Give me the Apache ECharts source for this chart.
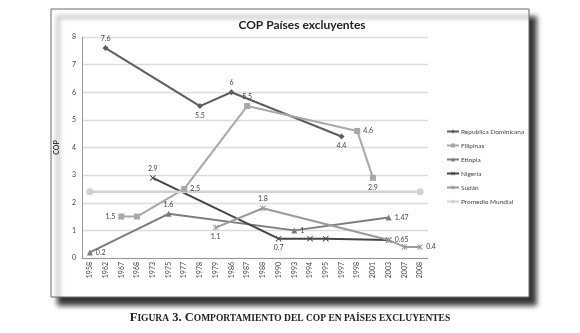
<!DOCTYPE html>
<html>
<head>
<meta charset="utf-8">
<script src="https://cdn.jsdelivr.net/npm/echarts@6/dist/echarts.min.js"></script>
<style>
  html, body { margin: 0; padding: 0; background: #fff; }
  #chart { width: 580px; height: 333px; }
</style>
</head>
<body>
<div id="chart"></div>
<script>
// categorías (años) del eje x
const years = ['1958', '1962', '1967', '1968', '1973', '1975', '1977', '1978', '1979', '1986', '1987',
  '1988', '1990', '1993', '1994', '1995', '1997', '1998', '2001', '2003', '2007', '2008'];

// valores COP por país (null = sin dato)
const repDominicana = [null, 7.6, null, null, null, null, null, 5.5, null, 6, null, null, null, null, null, null, 4.4, null, null, null, null, null];
const filipinas = [null, null, 1.5, 1.5, null, null, 2.5, null, null, null, 5.5, null, null, null, null, null, null, 4.6, 2.9, null, null, null];
const etiopia = [0.2, null, null, null, null, 1.6, null, null, null, null, null, null, null, 1, null, null, null, null, null, 1.47, null, null];
const nigeria = [null, null, null, null, 2.9, null, null, null, null, null, null, null, 0.7, null, 0.7, 0.7, null, null, null, 0.65, null, null];
const sudan = [null, null, null, null, null, null, null, null, 1.1, null, null, 1.8, null, null, null, null, null, null, null, 0.65, 0.4, 0.4];
const promedioMundial = [2.4, null, null, null, null, null, null, null, null, null, null, null, null, null, null, null, null, null, null, null, null, 2.4];

const yTicks = [0, 1, 2, 3, 4, 5, 6, 7, 8];

// posición de las etiquetas de datos (índice de año -> posición)
const labelPos = {
  rd: { 1: 'top', 7: 'bottom', 9: 'top', 16: 'bottom' },
  fil: { 2: 'left', 6: 'right', 10: 'top', 17: 'right', 18: 'bottom' },
  eti: { 0: 'right', 5: 'top', 13: 'right', 19: 'right' },
  nig: { 4: 'top', 12: 'bottom', 19: 'right' },
  sud: { 8: 'bottom', 11: 'top', 21: 'right' },
  pm: {}
};

const FONT = 'Lato, "Open Sans", sans-serif';
const SERIF = '"Liberation Serif", serif';

const xMark = 'path://M0,1 L1,0 L5,4 L9,0 L10,1 L6,5 L10,9 L9,10 L5,6 L1,10 L0,9 L4,5 Z';
const starMark = 'path://M0,1 L1,0 L4.4,3.4 L4.4,0 L5.6,0 L5.6,3.4 L9,0 L10,1 L6.6,4.4 L6.6,5.6 L10,9 L9,10 L5.6,6.6 L5.6,10 L4.4,10 L4.4,6.6 L1,10 L0,9 L3.4,5.6 L3.4,4.4 Z';

function buildData(values, pos) {
  return values.map((v, i) => {
    if (v === null) return null;
    const p = pos[i];
    return {
      value: v,
      label: p ? { show: true, position: p, distance: 3 } : { show: false }
    };
  });
}

function makeSeries(name, values, pos, color, symbol, size, width) {
  return {
    name: name,
    type: 'line',
    data: buildData(values, pos),
    connectNulls: true,
    symbol: symbol,
    symbolSize: size,
    showAllSymbol: true,
    lineStyle: { color: color, width: width || 2 },
    itemStyle: { color: color },
    label: { fontSize: 7, color: '#444', fontFamily: FONT },
    emphasis: { disabled: true },
    animation: false
  };
}

const chart = echarts.init(document.getElementById('chart'));

chart.setOption({
  backgroundColor: '#fff',
  animation: false,
  title: {
    text: 'COP Países excluyentes',
    left: 297,
    textAlign: 'center',
    top: 14,
    textStyle: { fontSize: 12, fontWeight: 'bold', color: '#222', fontFamily: FONT }
  },
  graphic: [
    {
      type: 'rect',
      z: -10,
      shape: { x: 51, y: 9, width: 478, height: 288 },
      style: {
        fill: '#fff',
        stroke: '#6a6a6a',
        lineWidth: 1,
        shadowBlur: 5,
        shadowOffsetX: 7,
        shadowOffsetY: 8,
        shadowColor: 'rgba(30,30,30,0.9)'
      }
    },
    {
      type: 'text',
      left: 'center',
      top: 311,
      style: {
        text: '{b|F}{s|IGURA}{b| 3. C}{s|OMPORTAMIENTO DEL COP EN PAÍSES EXCLUYENTES}',
        rich: {
          b: { fontSize: 12.5, fontWeight: 'bold', fontFamily: SERIF, fill: '#222', verticalAlign: 'bottom' },
          s: { fontSize: 9.5, fontWeight: 'bold', fontFamily: SERIF, fill: '#222', verticalAlign: 'bottom' }
        }
      }
    }
  ],
  legend: {
    orient: 'vertical',
    left: 441,
    top: 123,
    itemGap: 7,
    itemWidth: 12,
    itemHeight: 5,
    textStyle: { fontSize: 6.5, color: '#444', fontFamily: FONT, padding: [0, 0, 0, -3] },
    data: ['Republica Dominicana', 'Filipinas', 'Etiopia', 'Nigeria', 'Sudán', 'Promedio Mundial']
  },
  grid: { left: 82, right: 152, top: 37, bottom: 75, containLabel: false },
  xAxis: {
    type: 'category',
    data: years,
    boundaryGap: true,
    axisLine: { lineStyle: { color: '#999', width: 1 } },
    axisTick: { show: false },
    axisLabel: { rotate: 90, fontSize: 7, color: '#444', margin: 4, interval: 0, fontFamily: FONT }
  },
  yAxis: {
    type: 'value',
    min: yTicks[0],
    max: yTicks[yTicks.length - 1],
    interval: 1,
    name: 'COP',
    nameLocation: 'middle',
    nameGap: 22,
    nameRotate: 90,
    nameTextStyle: { fontSize: 7, fontWeight: 'bold', color: '#333', fontFamily: FONT },
    axisLine: { show: true, lineStyle: { color: '#999', width: 1 } },
    axisTick: { show: false },
    axisLabel: { fontSize: 7, color: '#444', margin: 6, fontFamily: FONT },
    splitLine: { lineStyle: { color: '#dcdcdc', width: 1.3 } }
  },
  series: [
    makeSeries('Republica Dominicana', repDominicana, labelPos.rd, '#5e5e5e', 'diamond', 6),
    makeSeries('Filipinas', filipinas, labelPos.fil, '#a8a8a8', 'rect', 6),
    makeSeries('Etiopia', etiopia, labelPos.eti, '#7c7c7c', 'triangle', 6),
    makeSeries('Nigeria', nigeria, labelPos.nig, '#454545', xMark, 6),
    makeSeries('Sudán', sudan, labelPos.sud, '#9a9a9a', starMark, 6),
    makeSeries('Promedio Mundial', promedioMundial, labelPos.pm, '#d2d2d2', 'circle', 7, 2.5)
  ]
});
</script>
</body>
</html>
